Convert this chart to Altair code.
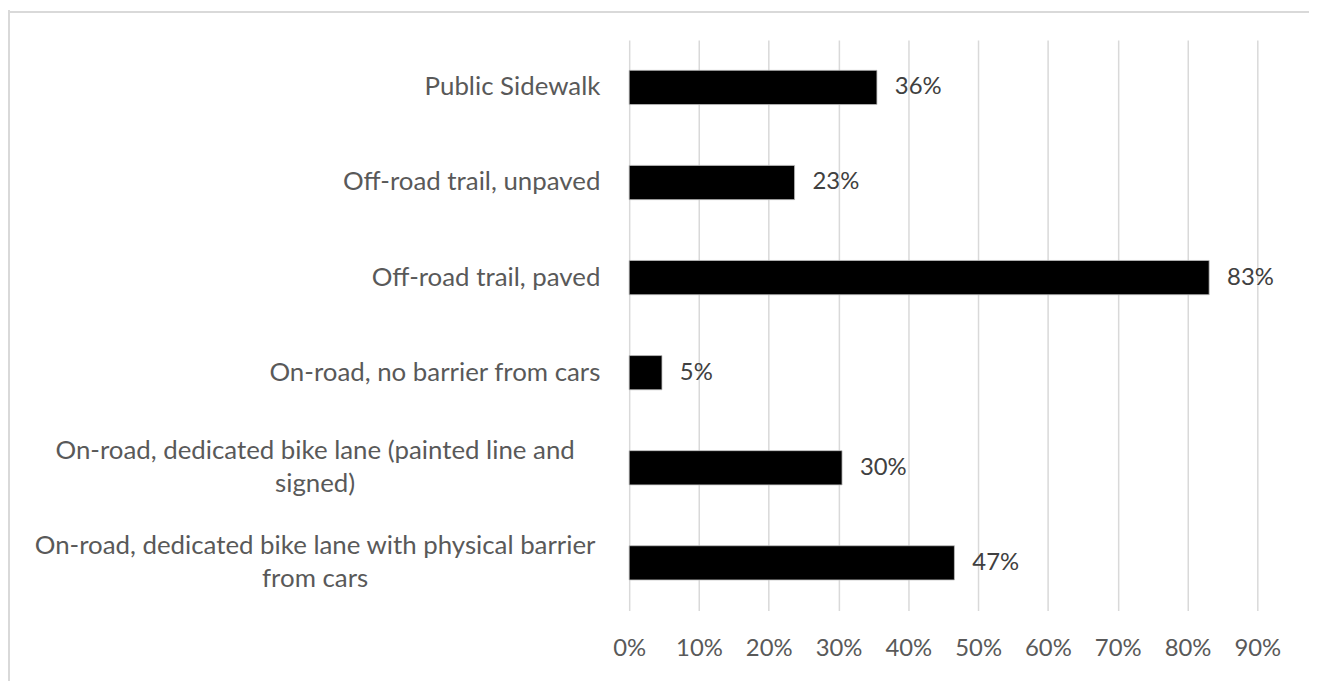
import altair as alt
import pandas as pd

categories = [
    "Public Sidewalk",
    "Off-road trail, unpaved",
    "Off-road trail, paved",
    "On-road, no barrier from cars",
    "On-road, dedicated bike lane (painted line and\nsigned)",
    "On-road, dedicated bike lane with physical barrier\nfrom cars",
]
values = [0.355, 0.237, 0.831, 0.047, 0.305, 0.466]
value_labels = ["36%", "23%", "83%", "5%", "30%", "47%"]
multiline = [False, False, False, False, True, True]
x_ticks = [0, 0.1, 0.2, 0.3, 0.4, 0.5, 0.6, 0.7, 0.8, 0.9]

df = pd.DataFrame({"cat": categories, "val": values, "lab": value_labels, "ml": multiline})

FONT = "Lato"
GRAY = "#595959"

y = alt.Y("cat:N", sort=categories, axis=None,
          scale=alt.Scale(paddingInner=0.64, paddingOuter=0.32))
x = alt.X("val:Q", scale=alt.Scale(domain=[0, 0.9], nice=False),
          axis=alt.Axis(values=x_ticks, format=".0%", title=None, domain=False, ticks=False,
                        grid=True, gridColor="#d9d9d9", gridWidth=1.5, labelOverlap=False,
                        labelFlush=False, labelBound=False,
                        labelFont=FONT, labelFontSize=24, labelColor=GRAY, labelPadding=26))

base = alt.Chart(df)

bars = base.mark_bar(color="black", stroke="#bfbfbf", strokeWidth=0.8).encode(x=x, y=y)

vlabels = base.mark_text(align="left", baseline="middle", dx=18, font=FONT, fontSize=24,
                         color="#404040").encode(x="val:Q", y=alt.Y("cat:N", sort=categories), text="lab:N")

single = base.transform_filter("!datum.ml").mark_text(
    align="right", baseline="middle", font=FONT, fontSize=26, color=GRAY
).encode(x=alt.value(-29), y=alt.Y("cat:N", sort=categories), text="cat:N")

multi = base.transform_filter("datum.ml").mark_text(
    align="center", baseline="middle", font=FONT, fontSize=26, color=GRAY,
    lineBreak="\n", lineHeight=33, dy=-17
).encode(x=alt.value(-316), y=alt.Y("cat:N", sort=categories), text="cat:N")

border_top = base.mark_rule(color="#d9d9d9", strokeWidth=2).encode(
    x=alt.value(-625), x2=alt.value(700), y=alt.value(-28))
border_left = base.mark_rule(color="#d9d9d9", strokeWidth=2).encode(
    x=alt.value(-624), y=alt.value(-30), y2=alt.value(700))

chart = alt.layer(bars, vlabels, single, multi, border_top, border_left).properties(
    width=632, height=574,
    autosize=alt.AutoSizeParams(type="none"),
    padding={"left": 625, "top": 30, "right": 52, "bottom": 75},
).configure_view(stroke=None)

chart.save("out.html", embed_options={"renderer": "svg", "actions": False})
